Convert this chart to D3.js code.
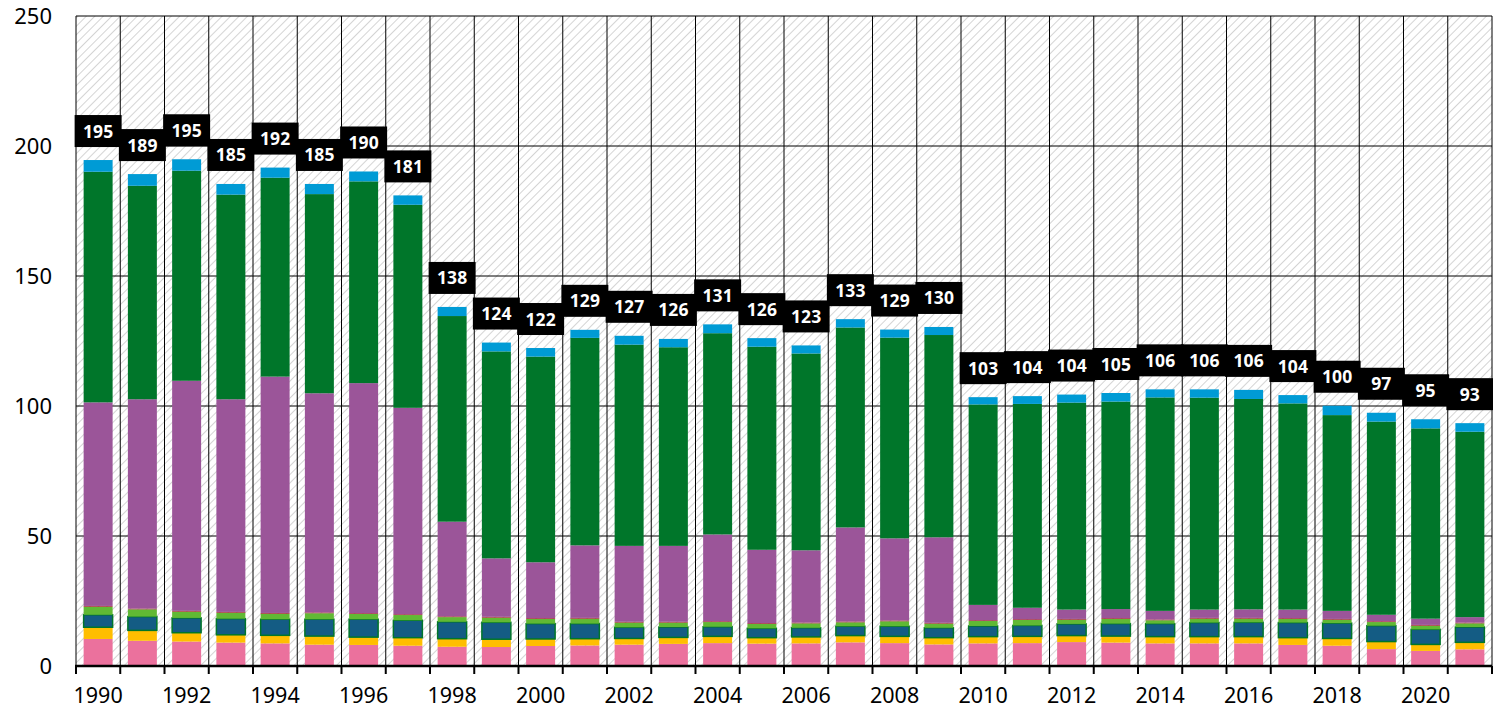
<!DOCTYPE html>
<html>
<head>
<meta charset="utf-8">
<script src="https://cdn.jsdelivr.net/npm/d3@7"></script>
<style>
  body { margin: 0; background: #fff; }
  svg { display: block; font-family: "Noto Sans", "Open Sans", sans-serif; }
</style>
</head>
<body>
<svg id="chart" width="1493" height="710"></svg>
<script>
// years on the x axis
const years = d3.range(1990, 2022);

// stacked series, bottom to top
const pink   = [10.4, 9.7, 9.4, 9.0, 8.7, 8.2, 8.1, 7.8, 7.4, 7.3, 7.7, 7.9, 8.2, 8.5, 8.8, 8.6, 8.7, 9.1, 8.8, 8.3, 8.7, 8.8, 9.2, 9.0, 8.7, 8.7, 8.7, 8.1, 7.8, 6.5, 5.8, 6.4];
const yellow = [4.5, 4.0, 3.4, 3.0, 3.1, 3.3, 3.0, 3.1, 3.1, 3.0, 2.7, 2.6, 2.4, 2.5, 2.6, 2.3, 2.5, 2.6, 2.6, 2.6, 2.6, 2.6, 2.5, 2.5, 2.6, 2.6, 2.6, 2.8, 2.8, 2.9, 2.5, 2.7];
const teal   = [4.8, 5.3, 5.7, 6.2, 6.2, 6.5, 6.9, 6.7, 6.5, 6.5, 5.9, 5.8, 4.3, 4.0, 3.7, 3.6, 3.5, 3.6, 3.9, 3.8, 4.1, 4.2, 4.5, 4.8, 5.0, 5.4, 5.5, 5.8, 5.9, 6.1, 5.8, 5.9];
const lgreen = [3.1, 2.8, 2.4, 2.3, 2.1, 2.3, 2.0, 2.0, 1.8, 1.8, 1.8, 1.9, 1.8, 1.7, 1.8, 1.7, 1.7, 1.5, 1.9, 1.6, 1.9, 2.1, 1.6, 1.8, 1.3, 1.5, 1.4, 1.4, 1.3, 1.4, 1.4, 1.4];
const darkred = [0.3, 0.3, 0.3, 0.3, 0.3, 0.3, 0.3, 0.3, 0.3, 0.3, 0.3, 0.3, 0.3, 0.3, 0.3, 0.3, 0.3, 0.3, 0.3, 0.3, 0.3, 0.3, 0.3, 0.3, 0.3, 0.3, 0.3, 0.3, 0.3, 0.3, 0.3, 0.3];
const purple = [78.3, 80.5, 88.5, 81.8, 90.9, 84.3, 88.5, 79.4, 36.4, 22.5, 21.5, 27.9, 29.2, 29.2, 33.4, 28.2, 27.8, 36.2, 31.6, 32.9, 5.9, 4.4, 3.6, 3.5, 3.3, 3.2, 3.3, 3.3, 3.1, 2.5, 2.4, 2.1];
const green  = [88.7, 82.1, 80.8, 78.7, 76.5, 76.6, 77.6, 78.1, 79.1, 79.6, 79.1, 79.8, 77.4, 76.4, 77.4, 78.1, 75.7, 76.9, 77.2, 77.8, 77.1, 78.4, 79.6, 79.8, 82.1, 81.5, 80.9, 79.3, 75.3, 74.3, 73.2, 71.3];
const blue   = [4.5, 4.5, 4.4, 4.1, 3.9, 3.9, 3.8, 3.6, 3.5, 3.4, 3.3, 3.1, 3.4, 3.2, 3.4, 3.3, 3.1, 3.2, 3.1, 3.1, 2.8, 3.0, 3.1, 3.3, 3.1, 3.2, 3.5, 3.2, 3.6, 3.4, 3.5, 3.3];

const yTicks = [0, 50, 100, 150, 200, 250];

const keys = ["pink", "yellow", "teal", "lgreen", "darkred", "purple", "green", "blue"];
const seriesData = { pink, yellow, teal, lgreen, darkred, purple, green, blue };
const colors = {
  pink: "#eb719d", yellow: "#ffbe00", teal: "#145c84", lgreen: "#61b934",
  darkred: "#a3202e", purple: "#9b5599", green: "#00762a", blue: "#009bd5"
};

const rows = years.map((yr, i) => {
  const r = { year: yr };
  keys.forEach(k => r[k] = seriesData[k][i]);
  r.total = d3.sum(keys, k => r[k]);
  return r;
});

const svg = d3.select("#chart");
const mLeft = 76, mRight = 1492, mTop = 16, mBottom = 666;

const pad = 0.345;
const x = d3.scaleBand()
  .domain(years)
  .range([mLeft, mRight])
  .paddingInner(pad)
  .paddingOuter(pad / 2);

const y = d3.scaleLinear()
  .domain([0, 250])
  .range([mBottom, mTop]);

// hatched background
const defs = svg.append("defs");
const pat = defs.append("pattern")
  .attr("id", "hatch")
  .attr("patternUnits", "userSpaceOnUse")
  .attr("width", 6)
  .attr("height", 6)
  .attr("patternTransform", "rotate(45)");
pat.append("rect").attr("width", 6).attr("height", 6).attr("fill", "#fff");
pat.append("line")
  .attr("x1", 0).attr("y1", 0).attr("x2", 0).attr("y2", 6)
  .attr("stroke", "#cfcfcf")
  .attr("stroke-width", 1.8);

svg.append("rect")
  .attr("x", mLeft).attr("y", mTop)
  .attr("width", mRight - mLeft).attr("height", mBottom - mTop)
  .attr("fill", "url(#hatch)");

// horizontal grid
svg.append("g")
  .selectAll("line")
  .data(yTicks)
  .join("line")
  .attr("x1", mLeft).attr("x2", mRight)
  .attr("y1", d => y(d)).attr("y2", d => y(d))
  .attr("stroke", "#000")
  .attr("stroke-width", 1);

// vertical grid at band boundaries
const bounds = years.map(yr => x(yr) - x.step() * pad / 2).concat([mRight]);
svg.append("g")
  .selectAll("line")
  .data(bounds)
  .join("line")
  .attr("x1", d => d).attr("x2", d => d)
  .attr("y1", mTop).attr("y2", mBottom)
  .attr("stroke", "#000")
  .attr("stroke-width", 1);

// stacked bars
const stack = d3.stack().keys(keys);
const layers = stack(rows);

svg.append("g")
  .selectAll("g")
  .data(layers)
  .join("g")
  .attr("fill", d => colors[d.key])
  .each(function (layer) {
    d3.select(this)
      .selectAll("rect")
      .data(layer)
      .join("rect")
      .attr("x", d => x(d.data.year))
      .attr("width", x.bandwidth())
      .attr("y", d => y(d[1]))
      .attr("height", d => y(d[0]) - y(d[1]))
      .attr("stroke", layer.key === "teal" ? "#00762a" : "none")
      .attr("stroke-width", layer.key === "teal" ? 1.5 : 0);
  });

// x axis
const xAxis = svg.append("g");
xAxis.append("line")
  .attr("x1", mLeft - 1).attr("x2", mRight)
  .attr("y1", mBottom).attr("y2", mBottom)
  .attr("stroke", "#000")
  .attr("stroke-width", 2.5);
xAxis.selectAll(".tick")
  .data(bounds)
  .join("line")
  .attr("class", "tick")
  .attr("x1", d => d).attr("x2", d => d)
  .attr("y1", mBottom).attr("y2", mBottom + 8)
  .attr("stroke", "#000")
  .attr("stroke-width", 2);
xAxis.selectAll("text")
  .data(years.filter(yr => yr % 2 === 0))
  .join("text")
  .attr("x", d => x(d) + x.bandwidth() / 2)
  .attr("y", 703)
  .attr("text-anchor", "middle")
  .attr("font-size", 21.5)
  .attr("fill", "#000")
  .text(d => d);

// y labels
svg.append("g")
  .selectAll("text")
  .data(yTicks)
  .join("text")
  .attr("x", 52)
  .attr("y", d => y(d) + 8)
  .attr("text-anchor", "end")
  .attr("font-size", 22)
  .attr("fill", "#000")
  .text(d => d);

// total labels
const lab = svg.append("g")
  .selectAll("g")
  .data(rows)
  .join("g")
  .attr("transform", d => `translate(${x(d.year) + x.bandwidth() / 2},${y(d.total) - 13})`);
lab.append("rect")
  .attr("x", -23.5).attr("y", -32)
  .attr("width", 47).attr("height", 32)
  .attr("fill", "#000");
lab.append("text")
  .attr("y", -9.5)
  .attr("text-anchor", "middle")
  .attr("font-size", 17.5)
  .attr("font-weight", "bold")
  .attr("fill", "#fff")
  .text(d => Math.round(d.total));
</script>
</body>
</html>
